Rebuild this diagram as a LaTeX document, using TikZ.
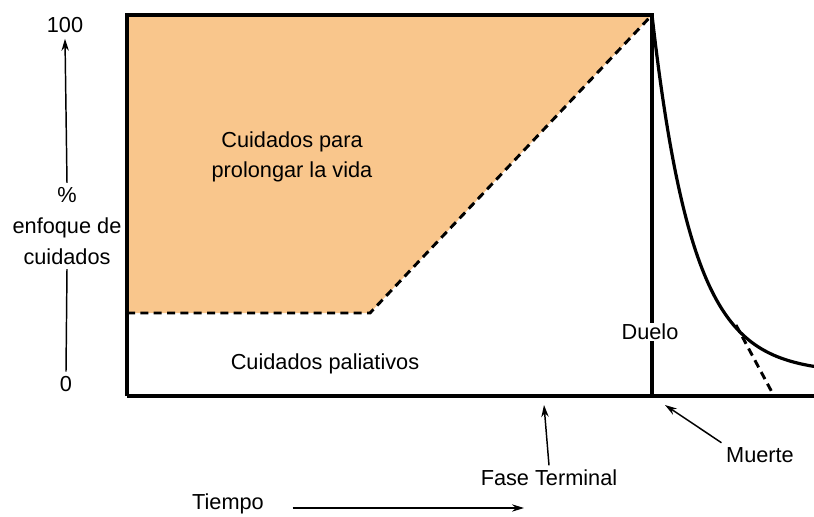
\documentclass[tikz,border=0pt]{standalone}
\usepackage{fontspec}
\setmainfont{Liberation Sans}
\usetikzlibrary{arrows.meta}

\definecolor{vidaorange}{RGB}{249,198,140}

\begin{document}
\begin{tikzpicture}[x=0.75pt, y=-0.75pt,
  every node/.style={font=\fontsize{16.3}{23}\selectfont},
  frame/.style={line width=2.4pt},
  dashline/.style={line width=2.2pt, dash pattern=on 6pt off 4pt},
  flecha/.style={line width=1.1pt, -{Stealth[length=9pt,width=5.5pt]}}]
\useasboundingbox (0,0) rectangle (814,517);

\fill[vidaorange] (127,15) -- (652,15) -- (370,313) -- (127,313) -- cycle;
\draw[dashline] (127,313) -- (370,313) -- (652,15);
\draw[dashline] (736,325) -- (774,396);

\draw[frame] (127,396) -- (127,15) -- (652,15) -- (652,396);
\draw[frame] (127,396) -- (814,396);
\draw[frame] plot[domain=652:814, samples=100] (\x, {373-358*exp(-(\x-652)/40.6)});

\node[fill=white, inner sep=1pt] (duelo) at (650,332) {Duelo};
\node (vida) at (292,157) [align=center] {Cuidados para\\prolongar la vida};
\node (paliativos) at (325,364) {Cuidados paliativos};

\node (cien) at (65,25) {100};
\node (cero) at (66,384) {0};
\node (enfoque) at (67,226) [align=center] {\%\\enfoque de\\cuidados};
\draw[flecha] (enfoque.north) -- ([yshift=-1pt]cien.south);
\draw[line width=1.1pt] (enfoque.south) -- (cero.north);

\node (fase) at (549,478) {Fase Terminal};
\coordinate (finfase) at (544,405);
\draw[flecha] (fase.north) -- (finfase);

\node (muerte) at (760,455) {Muerte};
\coordinate (punto) at (665,405);
\draw[flecha] (muerte.north west) -- (punto);

\node (tiempo) at (228,504) {Tiempo};
\coordinate (fintiempo) at (524,508);
\draw[flecha] ([xshift=18pt]tiempo.east |- fintiempo) -- (fintiempo);
\end{tikzpicture}
\end{document}
